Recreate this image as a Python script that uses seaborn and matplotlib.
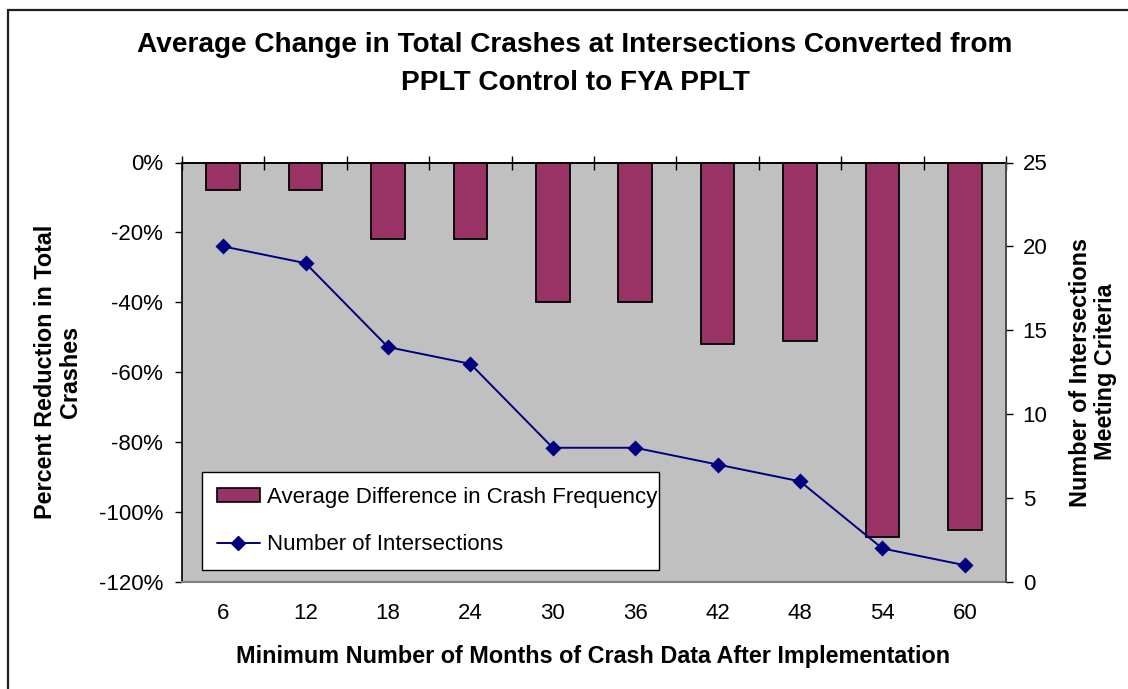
import matplotlib
matplotlib.use("Agg")
import matplotlib.pyplot as plt
from matplotlib.lines import Line2D
from matplotlib.patches import Patch
import seaborn as sns
import pandas as pd
import numpy as np

# Minimum months of post-implementation crash data
months = ["6", "12", "18", "24", "30", "36", "42", "48", "54", "60"]
# Average difference in crash frequency (percent)
pct_change = [-8, -8, -22, -22, -40, -40, -52, -51, -107, -105]
# Number of intersections meeting the criteria
n_intersections = [20, 19, 14, 13, 8, 8, 7, 6, 2, 1]

pct_ticks = [0, -20, -40, -60, -80, -100, -120]
count_ticks = [0, 5, 10, 15, 20, 25]

df = pd.DataFrame({"months": months, "pct": pct_change, "n": n_intersections})

sns.set_theme(style="white")
plt.rcParams["font.family"] = ["Liberation Sans", "DejaVu Sans"]
plt.rcParams["text.color"] = "black"
plt.rcParams["axes.labelcolor"] = "black"
plt.rcParams["xtick.color"] = "black"
plt.rcParams["ytick.color"] = "black"

W, H, DPI = 1128, 689, 100
fig = plt.figure(figsize=(W / DPI, H / DPI), dpi=DPI)
fig.patch.set_facecolor("white")

L, R, T, B = 182, 1006, 162.5, 582
ax = fig.add_axes([L / W, 1 - B / H, (R - L) / W, (B - T) / H])
ax.set_facecolor("#C0C0C0")

BAR = "#993366"
LINE = "#000080"
TICK_FS = 16
LABEL_FS = 16.8

sns.barplot(data=df, x="months", y="pct", ax=ax, color=BAR, width=0.41,
            edgecolor="black", linewidth=1.3, saturation=1, zorder=2)

ax2 = ax.twinx()
sns.pointplot(data=df, x="months", y="n", ax=ax2, color=LINE,
              markers="D", linestyles="-", markersize=7.5, linewidth=1.4,
              zorder=3)

ax.set_xlim(-0.5, len(months) - 0.5)
ax.set_ylim(-120, 0)
ax2.set_ylim(0, 25)

ax.set_yticks(pct_ticks)
ax.set_yticklabels([f"{v}%" for v in pct_ticks], fontsize=TICK_FS)
ax2.set_yticks(count_ticks)
ax2.set_yticklabels([str(v) for v in count_ticks], fontsize=TICK_FS)

ax.set_xticks(range(len(months)))
ax.set_xticklabels(months, fontsize=TICK_FS)
ax.tick_params(axis="x", which="major", length=0, pad=15)
ax.set_xticks(np.arange(-0.5, len(months), 1.0), minor=True)
ax.tick_params(axis="x", which="minor", bottom=False, top=True,
               direction="inout", length=10, width=1, color="black")
ax.tick_params(axis="y", which="major", left=True, direction="out",
               length=5, width=1, color="black", pad=8.5)
ax2.tick_params(axis="y", which="major", right=True, direction="out",
                length=5, width=1, color="black", pad=7)

for a in (ax, ax2):
    for s in a.spines.values():
        s.set_visible(True)
ax.spines["left"].set_color("black")
ax.spines["left"].set_linewidth(1.2)
ax.spines["top"].set_color("black")
ax.spines["top"].set_linewidth(1.4)
ax.spines["bottom"].set_color("#808080")
ax.spines["bottom"].set_linewidth(1.5)
ax.spines["right"].set_color("#808080")
ax2.spines["right"].set_color("#404040")
ax2.spines["right"].set_linewidth(1.2)
ax2.spines["left"].set_visible(False)
ax2.spines["top"].set_visible(False)
ax2.spines["bottom"].set_visible(False)

ax.set_xlabel("")
ax.set_ylabel("")
ax2.set_xlabel("")
ax2.set_ylabel("")

fig.text(575 / W, 1 - 45 / H,
         "Average Change in Total Crashes at Intersections Converted from",
         ha="center", va="center", fontsize=20.2, fontweight="bold")
fig.text(575 / W, 1 - 83 / H, "PPLT Control to FYA PPLT",
         ha="center", va="center", fontsize=20.2, fontweight="bold")

fig.text(593 / W, 1 - 657 / H,
         "Minimum Number of Months of Crash Data After Implementation",
         ha="center", va="center", fontsize=LABEL_FS, fontweight="bold")
fig.text(58 / W, 1 - 372 / H, "Percent Reduction in Total\nCrashes",
         ha="center", va="center", rotation=90, fontsize=LABEL_FS,
         fontweight="bold", linespacing=1.15)
fig.text(1093 / W, 1 - 372 / H, "Number of Intersections\nMeeting Criteria",
         ha="center", va="center", rotation=90, fontsize=LABEL_FS,
         fontweight="bold", linespacing=1.15)

handles = [
    Patch(facecolor=BAR, edgecolor="black", linewidth=1.2),
    Line2D([0], [0], color=LINE, marker="D", markersize=7.5, linewidth=1.4),
]
labels = ["Average Difference in Crash Frequency", "Number of Intersections"]
lx0, lx1, ly0, ly1 = 202, 659, 472, 569
leg = ax2.legend(handles, labels, loc="upper left",
                 bbox_to_anchor=(lx0 / W, 1 - ly1 / H, (lx1 - lx0) / W, (ly1 - ly0) / H),
                 bbox_transform=fig.transFigure, mode="expand",
                 fontsize=TICK_FS, frameon=True, fancybox=False, framealpha=1,
                 edgecolor="black", facecolor="white", borderpad=0.66,
                 labelspacing=1.2, handlelength=1.95, handleheight=0.6,
                 handletextpad=0.3, borderaxespad=0)
leg.get_frame().set_linewidth(1.0)
leg._legend_box.sep = 0

# Outer chart frame (left and top edges)
fig.add_artist(Line2D([8 / W, 8 / W], [0, 1 - 10 / H], color="#202020",
                      linewidth=1.6, transform=fig.transFigure))
fig.add_artist(Line2D([8 / W, 1], [1 - 10 / H, 1 - 10 / H], color="#202020",
                      linewidth=1.6, transform=fig.transFigure))

fig.savefig("out.png", dpi=DPI)
